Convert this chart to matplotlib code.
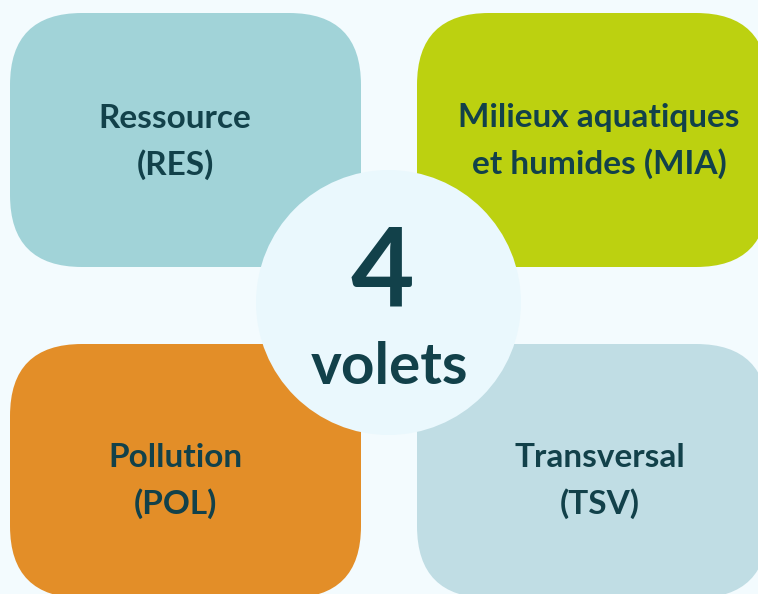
import matplotlib.pyplot as plt
from matplotlib.patches import FancyBboxPatch, Circle

# the four "volets"
labels = ["Ressource\n(RES)", "Milieux aquatiques\net humides (MIA)",
          "Pollution\n(POL)", "Transversal\n(TSV)"]
colors = ["#A1D3D8", "#BCD110", "#E38E28", "#C0DDE4"]
# box corners (x0, y0) in pixels, top-left origin
boxes = [(10, 13), (417, 13), (10, 344), (417, 344)]
text_pos = [(175, 142), (599, 141), (175, 481), (600, 481)]
center_num = "4"
center_word = "volets"

ink = "#12414A"
bg = "#F3FBFE"

fig = plt.figure(figsize=(7.58, 5.94), dpi=100)
fig.patch.set_facecolor(bg)
ax = fig.add_axes([0, 0, 1, 1])
ax.set_xlim(0, 758)
ax.set_ylim(594, 0)
ax.axis("off")

for (x0, y0), c in zip(boxes, colors):
    ax.add_patch(FancyBboxPatch((x0, y0), 351, 254,
                                boxstyle="round,pad=0,rounding_size=72",
                                fc=c, ec="none"))

for (tx, ty), lab in zip(text_pos, labels):
    ax.text(tx, ty, lab, ha="center", va="center", color=ink,
            fontsize=24, fontweight="bold", family="Lato", linespacing=1.62)

ax.add_patch(Circle((388.5, 302.5), 132.5, fc="#EAF8FD", ec="none"))
ax.text(382, 274, center_num, ha="center", va="center", color=ink,
        fontsize=79, fontweight="bold", family="Lato")
ax.text(389, 367, center_word, ha="center", va="center", color=ink,
        fontsize=42, fontweight="bold", family="Lato")

fig.savefig("out.png", dpi=100, facecolor=bg)
